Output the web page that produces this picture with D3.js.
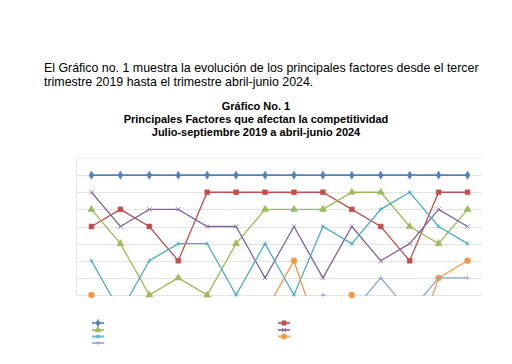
<meta charset="utf-8">
<script src="https://d3js.org/d3.v7.min.js"></script>
<body style="margin:0;background:#fff">
<div id="chart"></div>
<script>

var width = 512
var height = 364

// periods (labels are not printed on the chart)
var periods = ["T1","T2","T3","T4","T5","T6","T7","T8","T9","T10","T11","T12","T13","T14"]

// rank of each factor per period (1 = top); ranks > 8 fall under the clipped plot area
var serieAzul    = [1,1,1,1,1,1,1,1,1,1,1,1,1,1]
var serieRoja    = [4,3,4,6,2,2,2,2,2,3,4,6,2,2]
var serieVerde   = [3,5,8,7,8,5,3,3,3,2,2,4,5,3]
var serieMorada  = [2,4,3,3,4,4,7,4,7,4,6,5,3,4]
var serieCian    = [6,9,6,5,5,8,5,8,4,5,3,2,4,5]
var serieNaranja = [8,10,11,11,10,10,9,6,11,8,10,12,7,6]
var serieCeleste = [10,10,10,10,10,10,10,10,8,9,7,9,7,7]

var series = [
  { key: "s1", values: serieAzul,    color: "#4F81BD", symbol: d3.symbolDiamond, size: 20, fill: true },
  { key: "s2", values: serieRoja,    color: "#C0504D", symbol: d3.symbolSquare,  size: 24, fill: true },
  { key: "s3", values: serieVerde,   color: "#9BBB59", symbol: d3.symbolTriangle, size: 22, fill: true },
  { key: "s4", values: serieMorada,  color: "#8064A2", symbol: d3.symbolTimes || d3.symbolCross, size: 16, fill: false },
  { key: "s5", values: serieCian,    color: "#4BACC6", symbol: d3.symbolAsterisk || d3.symbolCross, size: 14, fill: false },
  { key: "s6", values: serieNaranja, color: "#F79646", symbol: d3.symbolCircle, size: 28, fill: true },
  { key: "s7", values: serieCeleste, color: "#8EA6D2", symbol: d3.symbolPlus || d3.symbolCross, size: 10, fill: false }
]

var svg = d3.select("#chart")
  .append("svg")
    .attr("width", width)
    .attr("height", height)
    .style("font-family", "'Liberation Sans', Arial, sans-serif")

// intro paragraph
svg.append("text")
  .attr("x", 44).attr("y", 72)
  .attr("font-size", "12.4px").attr("fill", "#000")
  .text("El Gráfico no. 1 muestra la evolución de los principales factores desde el tercer")
svg.append("text")
  .attr("x", 44).attr("y", 86)
  .attr("font-size", "12.4px").attr("fill", "#000")
  .text("trimestre 2019 hasta el trimestre abril-junio 2024.")

var titulo = ["Gráfico No. 1", "Principales Factores que afectan la competitividad", "Julio-septiembre 2019 a abril-junio 2024"]
svg.selectAll(".titulo")
  .data(titulo)
  .enter().append("text")
    .attr("class", "titulo")
    .attr("x", 256)
    .attr("y", function(d, i){ return 110 + i * 13 })
    .attr("text-anchor", "middle")
    .attr("font-size", "11px")
    .attr("font-weight", "bold")
    .text(function(d){ return d })

var plotLeft = 77, plotRight = 482, plotTop = 158, plotBottom = 295

var x = d3.scalePoint()
  .domain(periods)
  .range([plotLeft, plotRight])
  .padding(0.5)

var y = d3.scaleLinear()
  .domain([0, 8])
  .range([plotTop, plotBottom])

// gridlines
svg.append("g")
  .selectAll("line")
  .data(d3.range(0, 9))
  .enter().append("line")
    .attr("x1", plotLeft).attr("x2", plotRight)
    .attr("y1", function(d){ return Math.round(y(d)) + 0.5 })
    .attr("y2", function(d){ return Math.round(y(d)) + 0.5 })
    .attr("stroke", function(d){ return d == 0 ? "#f2f2f2" : "#e4e4e4" })
    .attr("stroke-width", 1)

svg.append("line")
  .attr("x1", plotLeft - 0.5).attr("x2", plotLeft - 0.5)
  .attr("y1", plotTop).attr("y2", plotBottom + 1)
  .attr("stroke", "#e8e8e8")

svg.append("clipPath").attr("id", "clip")
  .append("rect")
    .attr("x", plotLeft - 2).attr("y", plotTop - 5)
    .attr("width", plotRight - plotLeft + 4).attr("height", plotBottom - plotTop + 6)

var line = d3.line()
  .x(function(d, i){ return x(periods[i]) })
  .y(function(d){ return y(d) })

var lines = svg.append("g").attr("clip-path", "url(#clip)")
lines.selectAll("path")
  .data(series)
  .enter().append("path")
    .attr("d", function(d){ return line(d.values) })
    .attr("fill", "none")
    .attr("stroke", function(d){ return d.color })
    .attr("stroke-width", function(d){ return d.key == "s1" ? 1.8 : 1.3 })

// markers (only ranks inside the plot are shown)
series.forEach(function(s){
  var sym = d3.symbol().type(s.symbol).size(s.size)
  svg.append("g")
    .selectAll("path")
    .data(s.values.map(function(v, i){ return { v: v, p: periods[i] } })
      .filter(function(d){ return d.v <= 8 }))
    .enter().append("path")
      .attr("d", sym)
      .attr("transform", function(d){ return "translate(" + x(d.p) + "," + y(d.v) + ")" })
      .attr("fill", s.fill ? s.color : "none")
      .attr("stroke", s.color)
      .attr("stroke-width", s.fill ? 0.5 : 1)
      .attr("stroke-opacity", s.fill ? 1 : 0.7)
})

// legend (symbols only, as in the source)
var legendPos = [[98, 323], [284, 323], [98, 330], [284, 330], [98, 336.5], [284, 336.5], [98, 343]]
series.forEach(function(s, i){
  var g = svg.append("g").attr("transform", "translate(" + legendPos[i][0] + "," + legendPos[i][1] + ")")
  g.append("line")
    .attr("x1", -6).attr("x2", 6)
    .attr("stroke", s.color).attr("stroke-width", 2)
    .attr("stroke-opacity", 0.8)
  g.append("path")
    .attr("d", d3.symbol().type(s.symbol).size(s.size * 0.8)())
    .attr("fill", s.fill ? s.color : "none")
    .attr("stroke", s.color)
    .attr("stroke-width", s.fill ? 0.5 : 1)
})
</script>
</body>
